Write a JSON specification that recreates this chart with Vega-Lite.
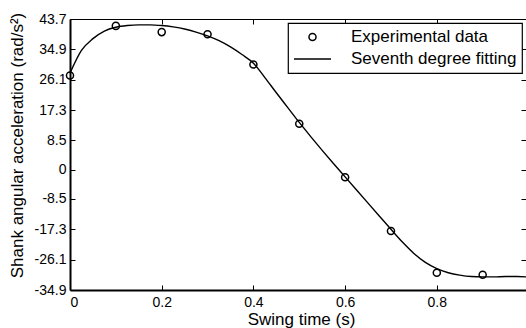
{
  "$schema": "https://vega.github.io/schema/vega-lite/v6.json",
  "width": 456,
  "height": 271,
  "autosize": {"type": "none"},
  "padding": {"left": 70, "top": 19, "right": 0, "bottom": 38},
  "background": "white",
  "config": {
    "view": {"stroke": null},
    "font": "Liberation Sans",
    "axis": {
      "grid": false,
      "domainColor": "black",
      "tickColor": "black",
      "labelColor": "black",
      "titleColor": "black",
      "labelFont": "Liberation Sans",
      "titleFont": "Liberation Sans",
      "labelFontSize": 14,
      "titleFontSize": 17,
      "titleFontWeight": "normal",
      "tickSize": -5,
      "tickWidth": 1
    },
    "legend": {
      "orient": "top-right",
      "offset": 4,
      "strokeColor": "black",
      "strokeWidth": 1.2,
      "fillColor": "white",
      "padding": 5,
      "labelFont": "Liberation Sans",
      "labelFontSize": 17,
      "labelColor": "black",
      "labelLimit": 400,
      "labelOffset": 19,
      "clipHeight": 18,
      "rowPadding": 4,
      "symbolStrokeColor": "black",
      "symbolStrokeWidth": 1.5,
      "cornerRadius": 0
    }
  },
  "datasets": {
    "exp": [
      {"t": 0, "a": 27.3, "series": "Experimental data"},
      {"t": 0.1, "a": 41.7, "series": "Experimental data"},
      {"t": 0.2, "a": 39.9, "series": "Experimental data"},
      {"t": 0.3, "a": 39.3, "series": "Experimental data"},
      {"t": 0.4, "a": 30.5, "series": "Experimental data"},
      {"t": 0.5, "a": 13.3, "series": "Experimental data"},
      {"t": 0.6, "a": -2.2, "series": "Experimental data"},
      {"t": 0.7, "a": -17.8, "series": "Experimental data"},
      {"t": 0.8, "a": -29.9, "series": "Experimental data"},
      {"t": 0.9, "a": -30.5, "series": "Experimental data"}
    ],
    "fit": [
      {"t": 0, "a": 28.0},
      {"t": 0.025, "a": 34.6},
      {"t": 0.05, "a": 38.0},
      {"t": 0.075, "a": 40.2},
      {"t": 0.1, "a": 41.3},
      {"t": 0.125, "a": 41.8},
      {"t": 0.15, "a": 42.0},
      {"t": 0.175, "a": 42.0},
      {"t": 0.2, "a": 41.8},
      {"t": 0.225, "a": 41.4},
      {"t": 0.25, "a": 40.8},
      {"t": 0.275, "a": 39.9},
      {"t": 0.3, "a": 38.8},
      {"t": 0.325, "a": 37.4},
      {"t": 0.35, "a": 35.6},
      {"t": 0.375, "a": 33.4},
      {"t": 0.4, "a": 30.9},
      {"t": 0.425, "a": 26.7},
      {"t": 0.45, "a": 22.3},
      {"t": 0.475, "a": 18.0},
      {"t": 0.5, "a": 13.7},
      {"t": 0.525, "a": 9.6},
      {"t": 0.55, "a": 5.6},
      {"t": 0.575, "a": 1.7},
      {"t": 0.6, "a": -2.1},
      {"t": 0.625, "a": -5.9},
      {"t": 0.65, "a": -9.7},
      {"t": 0.675, "a": -13.5},
      {"t": 0.7, "a": -17.3},
      {"t": 0.725, "a": -21.0},
      {"t": 0.75, "a": -24.3},
      {"t": 0.775, "a": -26.9},
      {"t": 0.8, "a": -28.7},
      {"t": 0.825, "a": -29.9},
      {"t": 0.85, "a": -30.6},
      {"t": 0.875, "a": -31.0},
      {"t": 0.9, "a": -31.1},
      {"t": 0.925, "a": -31.1},
      {"t": 0.95, "a": -31.0},
      {"t": 0.975, "a": -31.0},
      {"t": 0.9945, "a": -31.1}
    ]
  },
  "layer": [
    {
      "data": {"name": "fit"},
      "mark": {"type": "line", "color": "black", "strokeWidth": 1.4, "interpolate": "monotone"},
      "encoding": {
        "x": {
          "field": "t", "type": "quantitative",
          "scale": {"domain": [0, 0.9945], "nice": false, "zero": false},
          "axis": {
            "orient": "bottom",
            "values": [0, 0.2, 0.4, 0.6, 0.8],
            "labelExpr": "'' + datum.value",
            "domainWidth": 2,
            "labelPadding": 10,
            "title": "Swing time (s)",
            "titleX": 231,
            "titleY": 34,
            "titleBaseline": "alphabetic"
          }
        },
        "y": {
          "field": "a", "type": "quantitative",
          "scale": {"domain": [-34.9, 43.7], "nice": false, "zero": false},
          "axis": {
            "orient": "left",
            "values": [-34.9, -26.1, -17.3, -8.5, 0, 8.5, 17.3, 26.1, 34.9, 43.7],
            "labelExpr": "'' + datum.value",
            "domainWidth": 2,
            "labelPadding": 9,
            "title": "Shank angular acceleration (rad/s²)",
            "titleX": -44,
            "titleY": 126,
            "titleAngle": 270,
            "titleBaseline": "bottom"
          }
        }
      }
    },
    {
      "data": {"name": "exp"},
      "mark": {"type": "point", "filled": false, "color": "black", "strokeWidth": 1.5, "opacity": 1},
      "encoding": {
        "x": {
          "field": "t", "type": "quantitative",
          "scale": {"domain": [0, 0.9945], "nice": false, "zero": false},
          "axis": {
            "orient": "top",
            "values": [0, 0.2, 0.4, 0.6, 0.8],
            "labels": false,
            "domainWidth": 1,
            "title": null
          }
        },
        "y": {
          "field": "a", "type": "quantitative",
          "scale": {"domain": [-34.9, 43.7], "nice": false, "zero": false},
          "axis": {
            "orient": "right",
            "values": [-34.9, -26.1, -17.3, -8.5, 0, 8.5, 17.3, 26.1, 34.9, 43.7],
            "labels": false,
            "domainWidth": 1,
            "title": null
          }
        },
        "shape": {
          "field": "series", "type": "nominal",
          "scale": {"domain": ["Experimental data", "Seventh degree fitting"], "range": ["circle", "stroke"]},
          "legend": {"title": null}
        },
        "size": {
          "field": "series", "type": "nominal",
          "scale": {"domain": ["Experimental data", "Seventh degree fitting"], "range": [50, 1369]},
          "legend": {"title": null}
        }
      }
    }
  ],
  "resolve": {"axis": {"x": "independent", "y": "independent"}}
}
